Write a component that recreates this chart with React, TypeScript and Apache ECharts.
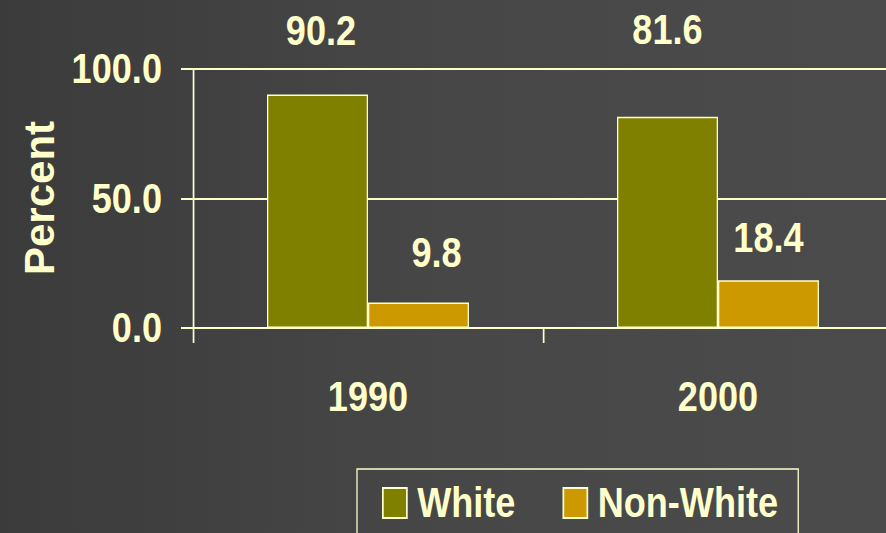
import React, { useEffect, useRef } from "react";
import * as echarts from "echarts";

const categories = ["1990", "2000"];
const whiteValues = [90.2, 81.6];
const nonWhiteValues = [9.8, 18.4];
const yTicks = [0, 50, 100];
const seriesNames = ["White", "Non-White"];
const yAxisTitle = "Percent";

// label placement tweaks (styling, not data)
const whiteLabelDistance = [43, 66];
const whiteLabelOffsetX = [4, 0];
const nonWhiteLabelDistance = [29, 22];
const nonWhiteLabelOffsetX = [21, 0];

const TEXT = "#ffffcc";
const FONT = "'Liberation Sans', Arial, sans-serif";

// The reference uses a condensed face; we draw on a wider canvas and squash it horizontally.
const OUT_W = 886;
const OUT_H = 533;
const WIDE_W = 1030;
const S = OUT_W / WIDE_W;
const px = (v: number) => v / S; // convert output-x pixels to wide-canvas pixels

export default function App() {
  const ref = useRef<HTMLDivElement>(null);
  useEffect(() => {
    if (!ref.current) return;
    const chart = echarts.init(ref.current, undefined, { renderer: "svg" });
    const labelBase = {
      show: true,
      position: "top" as const,
      color: TEXT,
      fontFamily: FONT,
      fontWeight: "bold" as const,
      fontSize: 42,
      formatter: (p: any) => Number(p.value).toFixed(1),
    };
    chart.setOption({
      animation: false,
      backgroundColor: {
        type: "linear",
        x: 0,
        y: 0,
        x2: 1,
        y2: 0,
        colorStops: [
          { offset: 0, color: "#3b3b3b" },
          { offset: 0.5, color: "#474747" },
          { offset: 1, color: "#4b4b4b" },
        ],
      },
      grid: {
        left: px(193),
        top: 69,
        bottom: 205,
        width: px(700),
        containLabel: false,
        outerBoundsMode: "none",
      },
      legend: {
        left: px(357),
        top: 469,
        orient: "horizontal",
        data: seriesNames,
        icon: "rect",
        itemWidth: px(24),
        itemHeight: 30,
        itemGap: px(47),
        padding: [13, px(20), 20, px(25)],
        borderColor: TEXT,
        borderWidth: 1.5,
        textStyle: {
          color: TEXT,
          fontFamily: FONT,
          fontWeight: "bold",
          fontSize: 42,
          padding: [0, 0, 0, px(6)],
        },
      },
      graphic: [
        {
          type: "text",
          x: px(39),
          y: 198,
          rotation: Math.PI / 2,
          scaleY: 1 / S,
          style: {
            text: yAxisTitle,
            fill: TEXT,
            font: `bold 42px ${FONT}`,
            align: "center",
            verticalAlign: "middle",
          },
        },
      ],
      xAxis: {
        type: "category",
        data: categories,
        boundaryGap: true,
        axisLine: { show: true, lineStyle: { color: TEXT, width: 2 } },
        axisTick: { show: true, length: 15, interval: 0, lineStyle: { color: TEXT, width: 2 } },
        axisLabel: {
          color: TEXT,
          fontFamily: FONT,
          fontWeight: "bold",
          fontSize: 42,
          margin: 48,
        },
      },
      yAxis: {
        type: "value",
        min: yTicks[0],
        max: yTicks[yTicks.length - 1],
        interval: yTicks[1] - yTicks[0],
        axisLine: { show: true, lineStyle: { color: TEXT, width: 2 } },
        axisTick: { show: true, length: px(12), lineStyle: { color: TEXT, width: 2 } },
        splitLine: { show: true, lineStyle: { color: TEXT, width: 2 } },
        axisLabel: {
          color: TEXT,
          fontFamily: FONT,
          fontWeight: "bold",
          fontSize: 42,
          margin: px(31),
          padding: [0, 0, 5, 0],
          formatter: (v: number) => v.toFixed(1),
        },
      },
      series: [
        {
          name: seriesNames[0],
          type: "bar",
          barWidth: px(101),
          barGap: "0%",
          itemStyle: { color: "#808000", borderColor: TEXT, borderWidth: 1.5 },
          label: labelBase,
          data: whiteValues.map((v, i) => ({
            value: v,
            label: { distance: whiteLabelDistance[i], offset: [whiteLabelOffsetX[i], 0] },
          })),
        },
        {
          name: seriesNames[1],
          type: "bar",
          barWidth: px(101),
          barGap: "0%",
          itemStyle: { color: "#cc9900", borderColor: TEXT, borderWidth: 1.5 },
          label: labelBase,
          data: nonWhiteValues.map((v, i) => ({
            value: v,
            label: { distance: nonWhiteLabelDistance[i], offset: [nonWhiteLabelOffsetX[i], 0] },
          })),
        },
      ],
    });
    return () => chart.dispose();
  }, []);
  return (
    <div
      style={{
        position: "fixed",
        left: 0,
        top: 0,
        width: OUT_W,
        height: OUT_H,
        overflow: "hidden",
      }}
    >
      <div
        ref={ref}
        style={{
          width: WIDE_W,
          height: OUT_H,
          transform: `scaleX(${S})`,
          transformOrigin: "0 0",
        }}
      />
    </div>
  );
}
